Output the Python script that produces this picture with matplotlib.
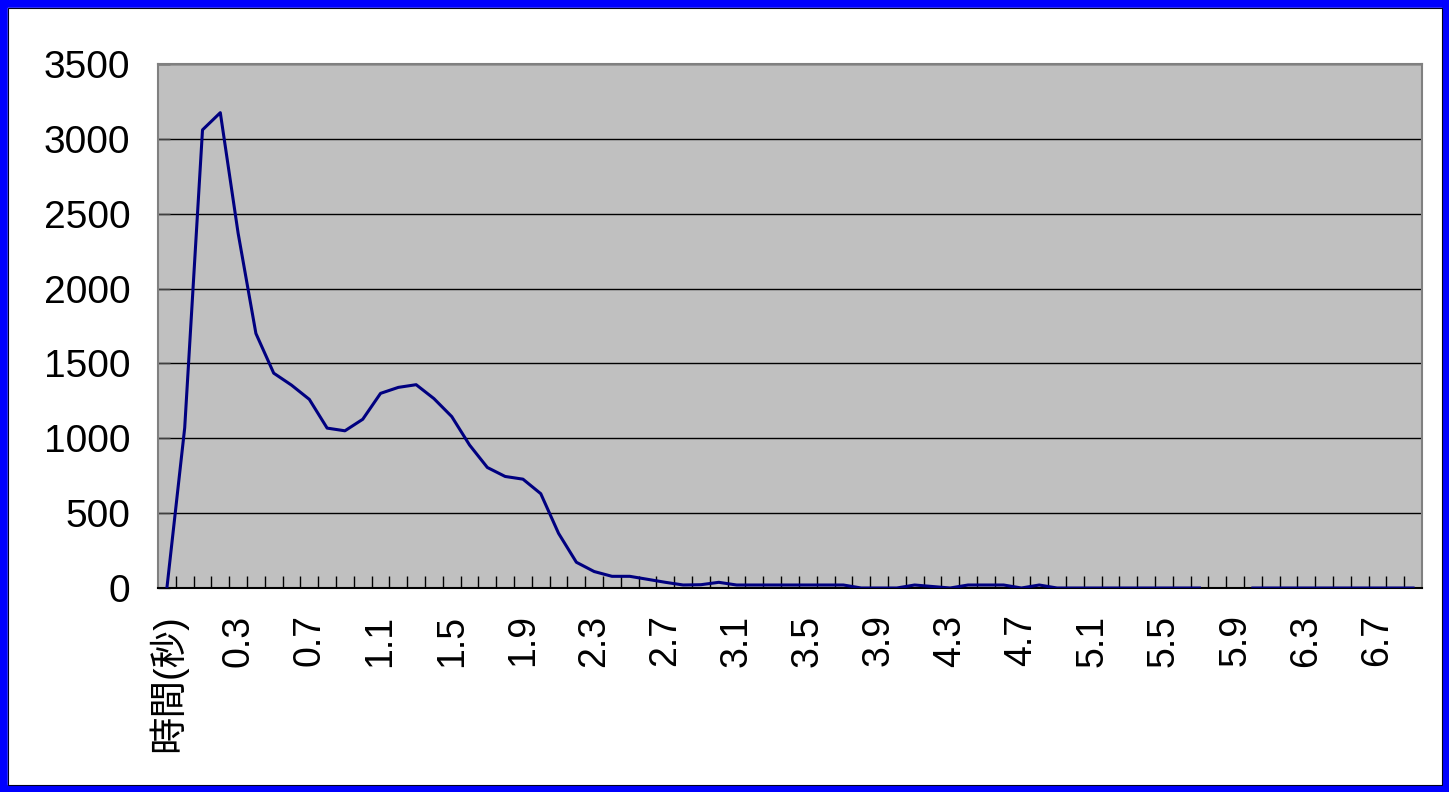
import numpy as np
import matplotlib.pyplot as plt
from matplotlib.patches import Rectangle

# categories: first cell is the header text, then 0.0 .. 6.9 s
categories = ['時間(秒)'] + ['%.1f' % (t / 10) for t in range(70)]
counts = [0, 1070, 3060, 3175, 2370, 1700, 1435, 1355, 1260, 1068,
          1050, 1127, 1300, 1340, 1358, 1265, 1145, 955, 805, 745,
          727, 630, 365, 172, 110, 78, 78, 58, 38, 20,
          22, 38, 20, 20, 20, 20, 20, 20, 20, 0,
          0, 0, 20, 10, 0, 20, 20, 20, 0, 20,
          0, 0, 0, 0, 0, 0, 0, 0, 0, np.nan,
          np.nan, 0, 0, 0, 0, 0, 0, 0, 0, 0,
          0]
label_every = 4

plt.rcParams['font.family'] = ['Liberation Sans', 'Noto Sans CJK TC']

fig = plt.figure(figsize=(14.49, 7.92), dpi=100)
fig.patch.set_facecolor('white')
ax = fig.add_axes([158/1449, 1-588/792, (1422-158)/1449, (588-64)/792])
ax.set_facecolor('#C0C0C0')

x = np.arange(len(categories))
ax.plot(x, counts, color='#000080', lw=2.2, zorder=3)

ax.set_xlim(-0.5, len(categories) - 0.5)
ax.set_ylim(0, 3500)
ax.set_yticks(np.arange(0, 3501, 500))
ax.yaxis.grid(True, color='black', lw=1.0)
ax.set_axisbelow(True)

# tick marks at category boundaries, labels at every 4th category
ax.set_xticks(np.arange(0.5, len(categories) - 1, 1))
ax.set_xticklabels([])
ax.tick_params(axis='x', which='major', direction='in', length=8.5, width=1, color='black')
idx = np.arange(0, len(categories), label_every)
ax.set_xticks(idx, minor=True)
ax.set_xticklabels([categories[i] for i in idx], minor=True, rotation=90, fontsize=27)
ax.tick_params(axis='x', which='minor', length=0, pad=19)
ax.tick_params(axis='y', direction='in', length=8.5, width=1, color='#404040', labelsize=28, pad=20)

for s in ['left', 'top', 'right']:
    ax.spines[s].set_color('#808080')
    ax.spines[s].set_linewidth(1.5)
ax.spines['bottom'].set_color('black')
ax.spines['bottom'].set_linewidth(1.5)

# blue frame around the slide
fig.patches.append(Rectangle((0, 0), 1, 1, transform=fig.transFigure, fill=False,
                             edgecolor='#0000FF', linewidth=10.5))
fig.patches.append(Rectangle((7.5/1449, 7.5/792), 1-15/1449, 1-15/792, transform=fig.transFigure,
                             fill=False, edgecolor='#000020', linewidth=0.8))

fig.savefig('out.png', dpi=100)
